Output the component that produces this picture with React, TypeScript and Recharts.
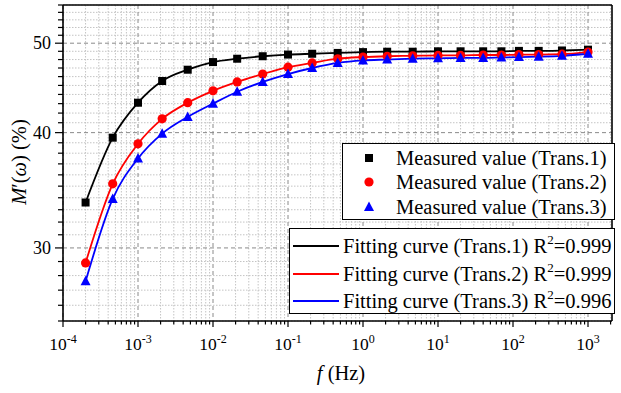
import React from 'react'
import { ComposedChart, Line, XAxis, YAxis, CartesianGrid, ReferenceLine } from 'recharts'

const freq = [0.0002, 0.00046, 0.001, 0.0021, 0.0046, 0.01, 0.021, 0.046, 0.1, 0.21, 0.46, 1, 2.1, 4.6, 10, 20, 40, 70, 120, 220, 450, 1000]
const trans1 = [33.6, 39.5, 43.1, 45.5, 46.8, 47.7, 48.1, 48.4, 48.6, 48.7, 48.8, 48.9, 48.95, 48.95, 49.0, 49.0, 49.0, 49.0, 49.05, 49.05, 49.1, 49.2]
const trans2 = [28.9, 35.2, 38.9, 41.4, 43.1, 44.4, 45.4, 46.3, 47.1, 47.6, 48.1, 48.3, 48.4, 48.45, 48.5, 48.5, 48.55, 48.55, 48.6, 48.6, 48.65, 48.9]
const trans3 = [27.6, 33.9, 37.5, 39.9, 41.6, 43.0, 44.3, 45.4, 46.3, 47.0, 47.6, 47.9, 48.0, 48.1, 48.15, 48.2, 48.2, 48.25, 48.3, 48.35, 48.45, 48.7]

const xExponents = [-4, -3, -2, -1, 0, 1, 2, 3]
const yMajorTicks = [30, 40, 50]
const measuredLabels = ['Measured value (Trans.1)', 'Measured value (Trans.2)', 'Measured value (Trans.3)']
const fitLabels = ['Fitting curve (Trans.1)', 'Fitting curve (Trans.2)', 'Fitting curve (Trans.3)']
const rSquared = ['0.999', '0.999', '0.996']
const colors = ['#000000', '#ff0000', '#0000ff']

const X_MIN = 1e-4
const X_MAX = 2089
const Y_MIN = 25
const Y_MAX = 55

const xMajorTicks = xExponents.map((e) => Math.pow(10, e))
const xMinorTicks: number[] = []
xExponents.forEach((e) => {
  for (let m = 2; m <= 9; m++) {
    const v = m * Math.pow(10, e)
    if (v <= X_MAX) xMinorTicks.push(Number(v.toPrecision(3)))
  }
})
const yAllTicks: number[] = []
for (let v = Y_MIN; v <= Y_MAX; v++) yAllTicks.push(v)
const yMinorTicks = yAllTicks.filter((v) => !yMajorTicks.includes(v))

const data = freq.map((f, i) => ({ f, t1: trans1[i], t2: trans2[i], t3: trans3[i] }))

const FONT = "'Liberation Serif', 'Times New Roman', serif"
const serif = { fontFamily: FONT }

const isMajorX = (v: number) => xMajorTicks.some((m) => Math.abs(Math.log10(v) - Math.log10(m)) < 1e-6)

const XTick = (props: any) => {
  const { x, y, payload } = props
  const major = isMajorX(payload.value)
  const exp = Math.round(Math.log10(payload.value))
  return (
    <g>
      <line x1={x} y1={y} x2={x} y2={y + (major ? 6 : 3.5)} stroke="#000" strokeWidth={1.2} />
      {major && (
        <text x={x} y={y + 29} textAnchor="middle" style={serif} fontSize={17.5} fill="#000">
          <tspan>10</tspan>
          <tspan dy={-7} fontSize={12}>{exp}</tspan>
        </text>
      )}
    </g>
  )
}

const YTick = (props: any) => {
  const { x, y, payload } = props
  const major = yMajorTicks.includes(payload.value)
  return (
    <g>
      <line x1={x} y1={y} x2={x - (major ? 8 : 5)} y2={y} stroke="#000" strokeWidth={1.2} />
      {major && (
        <text x={x - 12} y={y + 6} textAnchor="end" style={serif} fontSize={18} fill="#000">
          {payload.value}
        </text>
      )}
    </g>
  )
}

const Square = (props: any) => {
  const { cx, cy, index } = props
  if (cx == null || cy == null) return <g key={index} />
  return <rect key={index} x={cx - 4} y={cy - 4} width={8} height={8} fill="#000" />
}
const Dot = (props: any) => {
  const { cx, cy, index } = props
  if (cx == null || cy == null) return <g key={index} />
  return <circle key={index} cx={cx} cy={cy} r={4.6} fill="#ff0000" />
}
const Tri = (props: any) => {
  const { cx, cy, index } = props
  if (cx == null || cy == null) return <g key={index} />
  return <polygon key={index} points={`${cx},${cy - 5.5} ${cx - 5},${cy + 4} ${cx + 5},${cy + 4}`} fill="#0000ff" />
}
const markers = [Square, Dot, Tri]

const legendMarker = (i: number) => {
  if (i === 0) return <rect x={3} y={3} width={8} height={8} fill="#000" />
  if (i === 1) return <circle cx={7} cy={7} r={4.6} fill="#ff0000" />
  return <polygon points="7,1.5 2,11 12,11" fill="#0000ff" />
}

export default function App() {
  return (
    <div style={{ position: 'fixed', left: 0, top: 0, width: 621, height: 393, background: '#fff', fontFamily: FONT }}>
      <ComposedChart width={621} height={393} data={data} margin={{ top: 5, right: 9, left: 0, bottom: 0 }}>
        <CartesianGrid
          stroke="#c4c4c4"
          strokeDasharray="1.5 1.5"
          verticalValues={xMinorTicks}
          horizontalValues={yMinorTicks}
        />
        <CartesianGrid
          stroke="#8a8a8a"
          strokeDasharray="4 3"
          verticalValues={xMajorTicks}
          horizontalValues={yMajorTicks}
        />
        <XAxis
          dataKey="f"
          type="number"
          scale="log"
          domain={[X_MIN, X_MAX]}
          allowDataOverflow
          ticks={[...xMajorTicks, ...xMinorTicks].sort((a, b) => a - b)}
          interval={0}
          tickSize={0}
          tickMargin={0}
          tickLine={false}
          tick={XTick}
          axisLine={{ stroke: '#000', strokeWidth: 1.6 }}
          height={72}
          label={{
            content: () => (
              <text x={341} y={380} textAnchor="middle" style={serif} fontSize={20.5} fill="#000">
                <tspan fontStyle="italic">f</tspan>
                <tspan> (Hz)</tspan>
              </text>
            ),
          }}
        />
        <YAxis
          type="number"
          scale="log"
          domain={[Y_MIN, Y_MAX]}
          allowDataOverflow
          ticks={yAllTicks}
          interval={0}
          tickSize={0}
          tickMargin={0}
          tickLine={false}
          tick={YTick}
          axisLine={{ stroke: '#000', strokeWidth: 1.6 }}
          width={63}
          label={{
            content: () => (
              <text
                x={19}
                y={162}
                transform="rotate(-90, 19, 162)"
                textAnchor="middle"
                dominantBaseline="central"
                style={serif}
                fontSize={20.5}
                fill="#000"
              >
                <tspan fontStyle="italic">M</tspan>
                <tspan>′(</tspan>
                <tspan fontStyle="italic">ω</tspan>
                <tspan>) (%)</tspan>
              </text>
            ),
          }}
        />
        <ReferenceLine y={Y_MAX} stroke="#000" strokeWidth={1.6} />
        <ReferenceLine x={X_MAX} stroke="#000" strokeWidth={1.6} />
        {['t1', 't2', 't3'].map((k, i) => (
          <Line
            key={'fit' + k}
            dataKey={k}
            type="monotone"
            stroke={colors[i]}
            strokeWidth={1.8}
            dot={false}
            activeDot={false}
            isAnimationActive={false}
          />
        ))}
        {['t1', 't2', 't3'].map((k, i) => (
          <Line
            key={'pts' + k}
            dataKey={k}
            stroke="none"
            dot={markers[i]}
            activeDot={false}
            isAnimationActive={false}
          />
        ))}
      </ComposedChart>

      <div
        style={{
          position: 'absolute',
          left: 342,
          top: 143,
          width: 273,
          height: 77,
          boxSizing: 'border-box',
          border: '1px solid #000',
          background: '#fff',
        }}
      >
        {measuredLabels.map((label, i) => (
          <div key={label} style={{ position: 'absolute', left: 0, top: 1.5 + i * 24.7, height: 24, width: '100%' }}>
            <svg width={14} height={14} style={{ position: 'absolute', left: 18.5, top: 5 }}>
              {legendMarker(i)}
            </svg>
            <span style={{ position: 'absolute', left: 53, top: 0, fontSize: 20.5, lineHeight: '24px', whiteSpace: 'nowrap' }}>
              {label}
            </span>
          </div>
        ))}
      </div>

      <div
        style={{
          position: 'absolute',
          left: 289,
          top: 228,
          width: 326,
          height: 86,
          boxSizing: 'border-box',
          border: '1px solid #000',
          background: '#fff',
        }}
      >
        {fitLabels.map((label, i) => (
          <div key={label} style={{ position: 'absolute', left: 0, top: 4 + i * 27.5, height: 26, width: '100%' }}>
            <div style={{ position: 'absolute', left: 3, top: 12, width: 46, height: 2, background: colors[i] }} />
            <span style={{ position: 'absolute', left: 53, top: 0, fontSize: 20.5, lineHeight: '26px', whiteSpace: 'nowrap' }}>
              {label} R<sup style={{ fontSize: 13, verticalAlign: 'top', lineHeight: '14px' }}>2</sup>={rSquared[i]}
            </span>
          </div>
        ))}
      </div>
    </div>
  )
}
